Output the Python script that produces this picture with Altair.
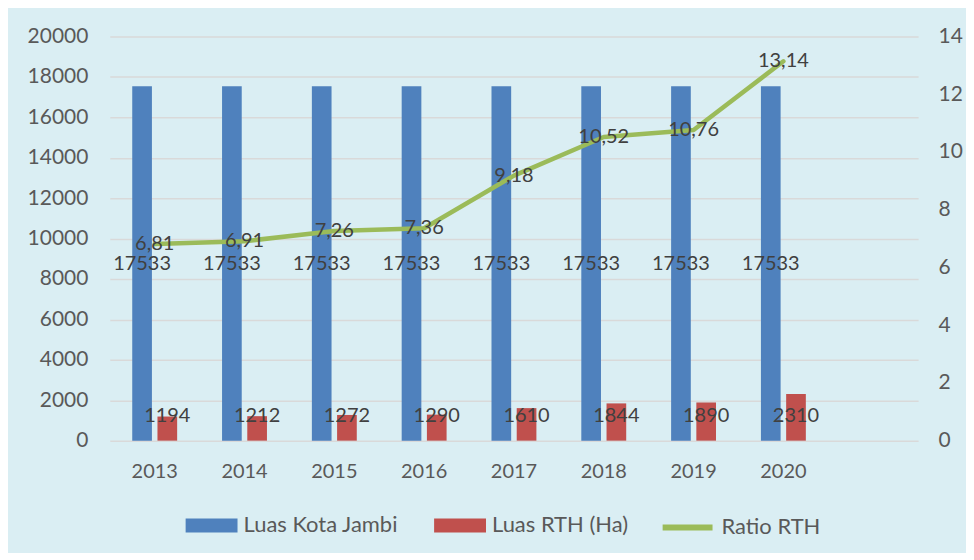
import altair as alt
import pandas as pd

years = ["2013", "2014", "2015", "2016", "2017", "2018", "2019", "2020"]
luas_kota = [17533, 17533, 17533, 17533, 17533, 17533, 17533, 17533]
luas_rth = [1194, 1212, 1272, 1290, 1610, 1844, 1890, 2310]
ratio_rth = [6.81, 6.91, 7.26, 7.36, 9.18, 10.52, 10.76, 13.14]

s_kota = "Luas Kota Jambi"
s_rth = "Luas RTH (Ha)"
s_ratio = "Ratio RTH"

BLUE = "#4F81BD"
RED = "#C0504D"
GREEN = "#9BBB59"
BG = "#DAEEF3"
FONT = "Lato"

bars_df = pd.DataFrame(
    {"year": years * 2,
     "series": [s_kota] * len(years) + [s_rth] * len(years),
     "value": luas_kota + luas_rth}
)
line_df = pd.DataFrame({"year": years, "ratio": ratio_rth, "series": [s_ratio] * len(years)})

x_domain = years + [" "]
x_scale = alt.Scale(domain=x_domain, paddingInner=0.5, paddingOuter=0.25)
x_enc = alt.X("year:N", scale=x_scale,
              axis=alt.Axis(title=None, labelAngle=0, ticks=False, domain=False,
                            labelPadding=21, labelFontSize=20, labelFont=FONT,
                            labelColor="#595959", grid=False))
xoff = alt.XOffset("series:N", scale=alt.Scale(domain=[s_kota, s_rth], paddingInner=0.22, paddingOuter=0))

bar_legend = alt.Legend(
    title=None, orient="none", direction="horizontal", legendX=76, legendY=464,
    labelFont=FONT, labelFontSize=22, labelColor="#595959", labelOffset=6,
    symbolType="M-1,-0.27H1V0.27H-1Z", symbolSize=2704, columnPadding=36,
    symbolStrokeWidth=0, symbolOpacity=1,
)
line_legend = alt.Legend(
    title=None, orient="none", direction="horizontal", legendX=551, legendY=464,
    labelFont=FONT, labelFontSize=22, labelColor="#595959", labelOffset=6,
    symbolType="stroke", symbolSize=2500, symbolStrokeWidth=6, symbolOpacity=1,
)

yl_scale = alt.Scale(domain=[0, 20000], nice=False)
yr_scale = alt.Scale(domain=[0, 14], nice=False)

left_axis = alt.Axis(title=None, values=list(range(0, 20001, 2000)), format="d",
                     domain=False, ticks=False, labelPadding=22, labelFontSize=21,
                     labelFont=FONT, labelColor="#595959", grid=True,
                     gridColor="#D9D9D9", gridWidth=1.5)
right_axis = alt.Axis(title=None, orient="right", values=list(range(0, 15, 2)),
                      domain=False, ticks=False, grid=False, labelPadding=20,
                      labelFontSize=21, labelFont=FONT, labelColor="#595959")

bars = alt.Chart(bars_df).mark_bar().encode(
    x=x_enc, xOffset=xoff,
    y=alt.Y("value:Q", scale=yl_scale, axis=left_axis),
    color=alt.Color("series:N", scale=alt.Scale(domain=[s_kota, s_rth], range=[BLUE, RED]),
                    legend=bar_legend),
)

kota_labels = alt.Chart(bars_df).transform_filter(
    alt.datum.series == s_kota
).transform_calculate(lbl="datum.value").transform_calculate(
    value="datum.lbl / 2"
).mark_text(
    font=FONT, fontSize=20, color="#404040", baseline="middle"
).encode(
    x=x_enc, xOffset=xoff,
    y=alt.Y("value:Q", scale=yl_scale, axis=left_axis),
    text=alt.Text("lbl:Q", format="d"),
)

rth_labels = alt.Chart(bars_df).transform_filter(
    alt.datum.series == s_rth
).transform_calculate(lbl="datum.value").transform_calculate(value="0").mark_text(
    font=FONT, fontSize=20, color="#404040", baseline="middle", dy=-25
).encode(
    x=x_enc, xOffset=xoff,
    y=alt.Y("value:Q", scale=yl_scale, axis=left_axis),
    text=alt.Text("lbl:Q", format="d"),
)

left = alt.layer(bars, kota_labels, rth_labels)

line = alt.Chart(line_df).mark_line(strokeWidth=4.5, strokeCap="round", strokeJoin="round").encode(
    x=x_enc,
    y=alt.Y("ratio:Q", scale=yr_scale, axis=right_axis),
    stroke=alt.Stroke("series:N", scale=alt.Scale(domain=[s_ratio], range=[GREEN]),
                      legend=line_legend),
)

line_labels = alt.Chart(line_df).transform_calculate(
    lbl="replace(format(datum.ratio, '.2f'), '.', ',')"
).mark_text(font=FONT, fontSize=20, color="#404040", baseline="middle").encode(
    x=x_enc,
    y=alt.Y("ratio:Q", scale=yr_scale, axis=right_axis),
    text="lbl:N",
)

right = alt.layer(line, line_labels)

chart = alt.layer(left, right).resolve_scale(y="independent").properties(
    width=810, height=405,
    autosize=alt.AutoSizeParams(type="none"),
    padding={"left": 102, "top": 28, "right": 48, "bottom": 112},
    background=BG,
).configure_view(stroke=None)

chart.save("out.html", embed_options={"renderer": "svg", "actions": False})
